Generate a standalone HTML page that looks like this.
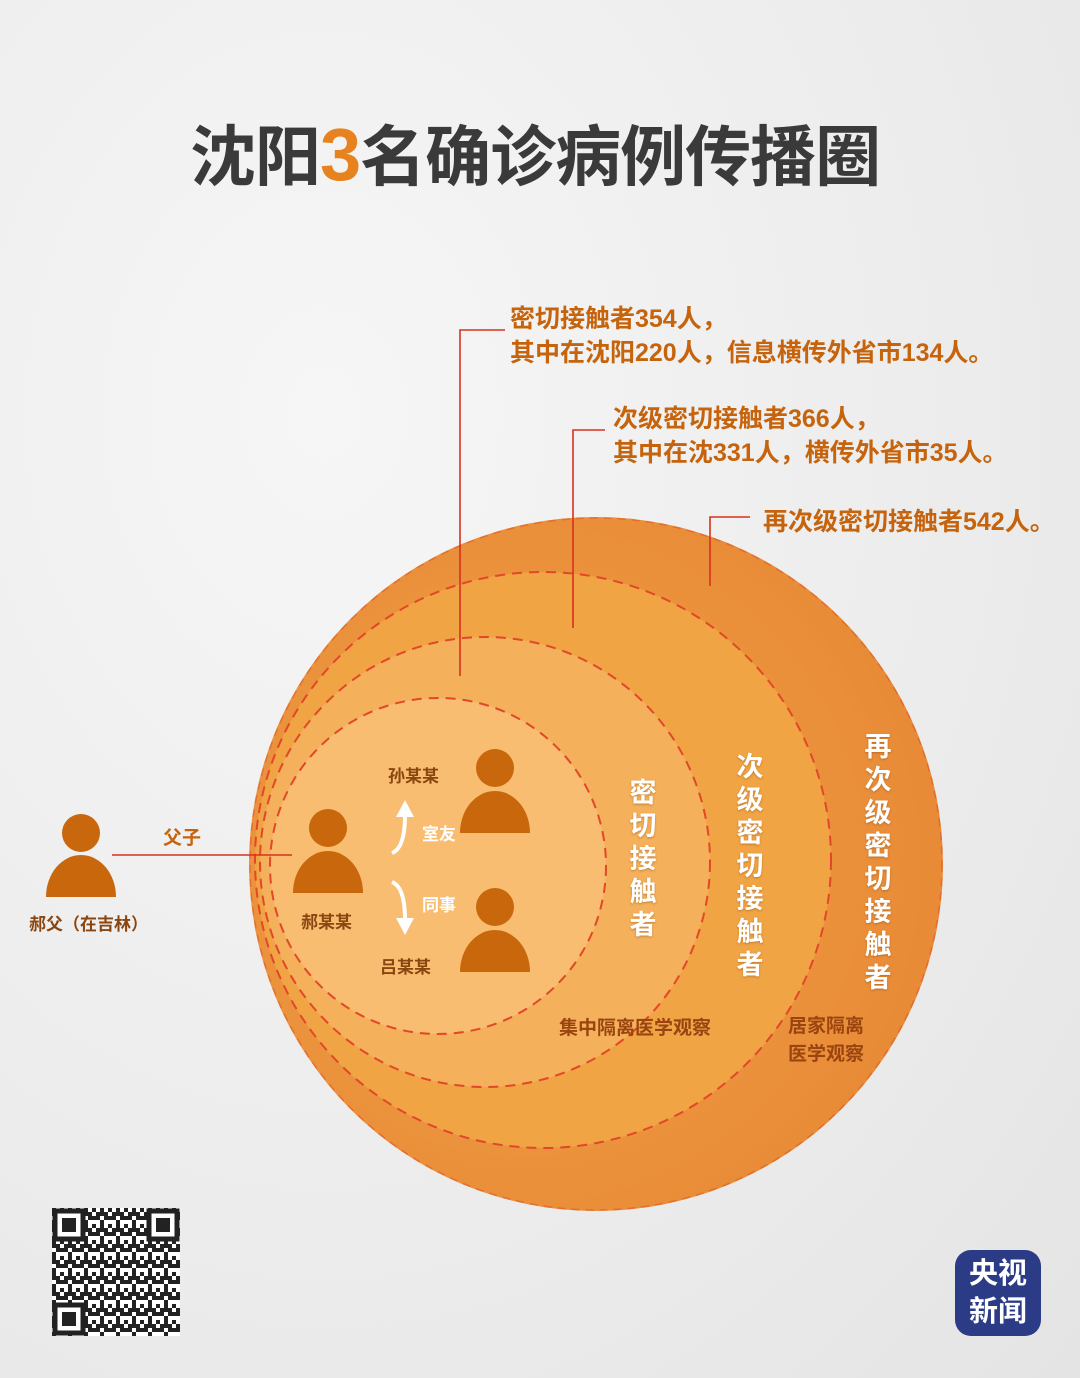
<!DOCTYPE html>
<html><head><meta charset="utf-8"><style>
body{margin:0;width:1080px;height:1378px;overflow:hidden;font-family:"Liberation Sans","Noto Sans CJK SC",sans-serif;font-weight:bold;
background:radial-gradient(ellipse at 30% 30%,#f6f6f6 0%,#ececec 60%,#e4e4e4 100%);position:relative}
.t{position:absolute;white-space:nowrap}
.co{color:#c6630d;font-size:25px;line-height:34px}
.v{position:absolute;color:#fff;font-size:27px;width:30px;text-align:center;line-height:33px;text-shadow:0 1px 2px rgba(120,60,0,.4)}
.lb{color:#8a4610;font-size:17px}
</style></head><body>
<div class="t" style="left:190px;top:112px;font-size:66px;color:#3a3a3a;letter-spacing:-1px;line-height:86px">沈阳<span style="color:#e8821e;font-size:74px">3</span>名确诊病例传播圈</div>
<svg width="1080" height="1378" style="position:absolute;left:0;top:0">
<defs><radialGradient id="g" cx="0.4" cy="0.5" r="0.6"><stop offset="0" stop-color="#f2a34a"/><stop offset="1" stop-color="#e88a36"/></radialGradient>
<pattern id="qr" width="16" height="16" patternUnits="userSpaceOnUse"><rect width="16" height="16" fill="#fff"/><rect x="0" y="0" width="4" height="4" fill="#222"/><rect x="8" y="0" width="8" height="4" fill="#222"/><rect x="4" y="4" width="4" height="8" fill="#222"/><rect x="12" y="8" width="4" height="4" fill="#222"/><rect x="0" y="12" width="8" height="4" fill="#222"/><rect x="8" y="12" width="4" height="4" fill="#222"/></pattern></defs>
<circle cx="596" cy="864" r="347" fill="url(#g)"/>
<circle cx="596" cy="864" r="346" fill="none" stroke="#d9502a" stroke-width="1.5" stroke-dasharray="8 6" opacity=".5"/>
<circle cx="543" cy="860" r="288" fill="#f0a444" stroke="#e2472a" stroke-width="2" stroke-dasharray="10 7"/>
<circle cx="485" cy="862" r="225" fill="#f4b05a" stroke="#e2472a" stroke-width="2" stroke-dasharray="10 7"/>
<circle cx="438" cy="866" r="168" fill="#f8bd70" stroke="#e2472a" stroke-width="2" stroke-dasharray="10 7"/>
<g stroke="#d8321e" stroke-width="1.6" fill="none">
<polyline points="505,330 460,330 460,676"/>
<polyline points="605,430 573,430 573,628"/>
<polyline points="750,517 710,517 710,586"/>
<line x1="112" y1="855" x2="292" y2="855"/>
</g>
<g fill="#c8670b">
<circle cx="81" cy="833" r="19"/><path d="M46 897 A35 42 0 0 1 116 897Z"/>
<circle cx="328" cy="828" r="19"/><path d="M293 893 A35 42 0 0 1 363 893Z"/>
<circle cx="495" cy="768" r="19"/><path d="M460 833 A35 42 0 0 1 530 833Z"/>
<circle cx="495" cy="907" r="19"/><path d="M460 972 A35 42 0 0 1 530 972Z"/>
</g>
<g fill="none" stroke="#fff" stroke-width="4">
<path d="M392 853 Q405 848 405 815"/><path d="M392 882 Q405 887 405 920"/>
</g>
<g fill="#fff"><path d="M396 817 L405 800 L414 817Z"/><path d="M396 918 L405 935 L414 918Z"/></g>
<rect x="52" y="1208" width="128" height="128" fill="url(#qr)"/>
<g fill="#fff" stroke="#222" stroke-width="5">
<rect x="55" y="1211" width="28" height="28"/><rect x="149" y="1211" width="28" height="28"/><rect x="55" y="1305" width="28" height="28"/></g>
<g fill="#222"><rect x="62" y="1218" width="14" height="14"/><rect x="156" y="1218" width="14" height="14"/><rect x="62" y="1312" width="14" height="14"/></g>
</svg>
<div class="t co" style="left:510px;top:302px">密切接触者354人，<br>其中在沈阳220人，信息横传外省市134人。</div>
<div class="t co" style="left:613px;top:402px">次级密切接触者366人，<br>其中在沈331人，横传外省市35人。</div>
<div class="t co" style="left:763px;top:505px">再次级密切接触者542人。</div>
<div class="t" style="left:163px;top:823px;color:#c6630d;font-size:19px">父子</div>
<div class="t lb" style="left:29px;top:910px">郝父（在吉林）</div>
<div class="t lb" style="left:301px;top:908px">郝某某</div>
<div class="t lb" style="left:388px;top:762px">孙某某</div>
<div class="t lb" style="left:380px;top:953px">吕某某</div>
<div class="t" style="left:422px;top:820px;color:#fff;font-size:17px">室友</div>
<div class="t" style="left:422px;top:891px;color:#fff;font-size:17px">同事</div>
<div class="v" style="left:628px;top:777px">密<br>切<br>接<br>触<br>者</div>
<div class="v" style="left:735px;top:751px">次<br>级<br>密<br>切<br>接<br>触<br>者</div>
<div class="v" style="left:863px;top:731px">再<br>次<br>级<br>密<br>切<br>接<br>触<br>者</div>
<div class="t" style="left:559px;top:1013px;color:#9a4510;font-size:19px">集中隔离医学观察</div>
<div class="t" style="left:788px;top:1013px;color:#9a4510;font-size:19px;line-height:28px">居家隔离<br>医学观察</div>
<div style="position:absolute;left:955px;top:1250px;width:86px;height:86px;border-radius:16px;background:#2b3b86;color:#fff;font-size:29px;line-height:38px;text-align:center;padding-top:5px;box-sizing:border-box">央视<br>新闻</div>
</body></html>
